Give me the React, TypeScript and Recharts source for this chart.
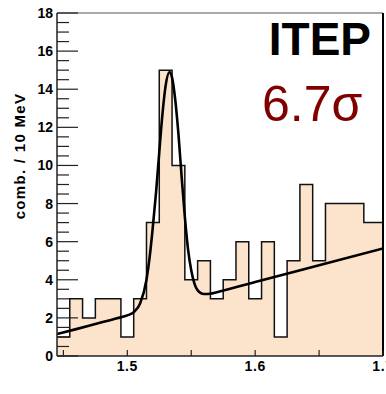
import React from 'react';
import {
  ComposedChart,
  Area,
  Line,
  XAxis,
  YAxis,
  ReferenceLine,
} from 'recharts';

// lower edges of the 10 MeV bins
const binStart = [
  1.445, 1.455, 1.465, 1.475, 1.485, 1.495, 1.505, 1.515, 1.525, 1.535,
  1.545, 1.555, 1.565, 1.575, 1.585, 1.595, 1.605, 1.615, 1.625, 1.635,
  1.645, 1.655, 1.665, 1.675, 1.685, 1.695,
];
const counts = [1, 3, 2, 3, 3, 1, 3, 7, 15, 10, 4, 5, 3, 4, 6, 3, 6, 1, 5, 9, 5, 8, 8, 8, 7, 7];
const lastEdge = 1.705;

// fitted curve
const fitX = [
  1.445, 1.46, 1.48, 1.495, 1.5, 1.505, 1.51, 1.515, 1.5175, 1.52, 1.5225, 1.525,
  1.5275, 1.53, 1.533, 1.535, 1.5375, 1.54, 1.5425, 1.545, 1.5475, 1.55, 1.5525,
  1.555, 1.5575, 1.56, 1.565, 1.57, 1.6, 1.65, 1.7,
];
const fitY = [
  1.15, 1.41, 1.77, 2.03, 2.13, 2.3, 2.75, 4.0, 5.2, 6.8, 8.6, 10.7,
  12.7, 14.2, 14.9, 14.61, 13.44, 11.64, 9.4, 7.3, 5.6, 4.5, 3.8,
  3.45, 3.3, 3.25, 3.27, 3.35, 3.88, 4.76, 5.64,
];

const yTicks = [
  0, 0.5, 1, 1.5, 2, 2.5, 3, 3.5, 4, 4.5, 5, 5.5, 6, 6.5, 7, 7.5, 8, 8.5, 9,
  9.5, 10, 10.5, 11, 11.5, 12, 12.5, 13, 13.5, 14, 14.5, 15, 15.5, 16, 16.5, 17, 17.5, 18,
];
const yLabels = [0, 2, 4, 6, 8, 10, 12, 14, 16, 18];
const xTicks = [1.45, 1.5, 1.55, 1.6, 1.65, 1.7];
const xLabels = [1.5, 1.6, 1.7];

const histData = binStart
  .map((x, i) => ({ x, n: counts[i] }))
  .concat([{ x: lastEdge, n: counts[counts.length - 1] }]);
const fitData = fitX.map((x, i) => ({ x, f: fitY[i] }));

const font = '"Liberation Sans", Arial, Helvetica, sans-serif';
const axisColor = '#222';

const YTick = (props: any) => {
  const { x, y, payload } = props;
  const major = yLabels.includes(payload.value);
  return (
    <g>
      <line x1={x} x2={x + (major ? 21 : 12)} y1={y} y2={y} stroke={axisColor} strokeWidth={1.2} />
      {major && (
        <text x={x - 4} y={y} dy="0.36em" textAnchor="end" fontFamily={font} fontWeight="bold" fontSize={14} fill="#000">
          {payload.value}
        </text>
      )}
    </g>
  );
};

const XTick = (props: any) => {
  const { x, y, payload } = props;
  const lab = xLabels.find((v) => Math.abs(v - payload.value) < 1e-6);
  return (
    <g>
      <line x1={x} x2={x} y1={y} y2={y - 6} stroke={axisColor} strokeWidth={1.2} />
      {lab !== undefined && (
        <text x={x} y={y + 15} textAnchor="middle" fontFamily={font} fontWeight="bold" fontSize={14} letterSpacing={0.6} fill="#000">
          {lab.toFixed(1)}
        </text>
      )}
    </g>
  );
};

export default function App() {
  return (
    <div style={{ position: 'relative', width: 386, height: 394, background: '#fff' }}>
      <style>{'body{margin:0}'}</style>
      <ComposedChart
        width={386}
        height={394}
        data={histData}
        margin={{ top: 13, right: 3, bottom: 0, left: 0 }}
      >
        <XAxis
          dataKey="x"
          type="number"
          domain={[1.445, 1.7]}
          allowDataOverflow
          ticks={xTicks}
          interval={0}
          tickSize={0}
          tickMargin={0}
          tick={<XTick />}
          height={38}
          axisLine={{ stroke: axisColor, strokeWidth: 1.5 }}
        />
        <YAxis
          type="number"
          domain={[0, 18]}
          allowDataOverflow
          ticks={yTicks}
          interval={0}
          tickSize={0}
          tickMargin={0}
          tick={<YTick />}
          width={57}
          axisLine={{ stroke: axisColor, strokeWidth: 1.5 }}
        />
        <Area
          dataKey="n"
          type="stepAfter"
          fill="#fce3cb"
          fillOpacity={1}
          stroke="none"
          isAnimationActive={false}
        />
        <Line
          dataKey="n"
          type="stepAfter"
          stroke="#111"
          strokeWidth={1.5}
          dot={false}
          isAnimationActive={false}
        />
        <Line
          data={fitData}
          dataKey="f"
          type="monotone"
          stroke="#000"
          strokeWidth={2.6}
          dot={false}
          isAnimationActive={false}
        />
        <ReferenceLine y={18} stroke="#555" strokeWidth={1} />
        <ReferenceLine x={1.7} stroke="#000" strokeWidth={2} />
      </ComposedChart>
      <svg width={386} height={394} style={{ position: 'absolute', left: 0, top: 0, pointerEvents: 'none' }}>
        <text
          transform="translate(25 156) rotate(-90)"
          textAnchor="middle"
          fontFamily={font}
          fontWeight="bold"
          fontSize={15}
          letterSpacing={1.3}
          fill="#000"
        >
          comb. / 10 MeV
        </text>
        <text x={371} y={55} textAnchor="end" fontFamily={font} fontWeight="bold" fontSize={46} fill="#000">
          ITEP
        </text>
        <text x={262} y={121} textAnchor="start" fontFamily={font} fontSize={50} fill="#800000">
          6.7σ
        </text>
      </svg>
    </div>
  );
}
